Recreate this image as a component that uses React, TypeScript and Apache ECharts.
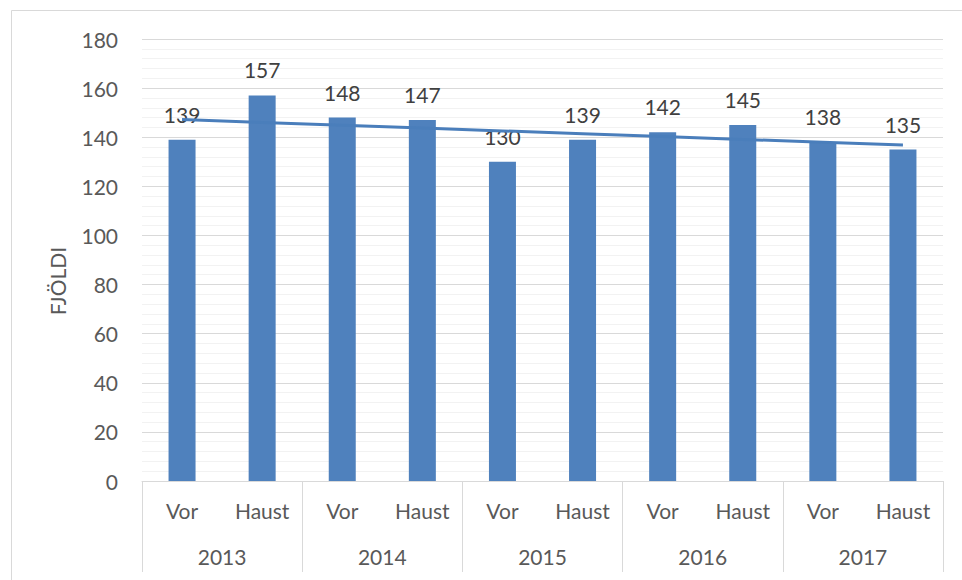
import React, { useEffect, useRef } from "react";
import * as echarts from "echarts";

const categories = ["Vor", "Haust", "Vor", "Haust", "Vor", "Haust", "Vor", "Haust", "Vor", "Haust"];
const years = ["2013", "2014", "2015", "2016", "2017"];
const values = [139, 157, 148, 147, 130, 139, 142, 145, 138, 135];
const yTicks = { min: 0, max: 180, interval: 20 };

// Linear (least-squares) trendline over the bar values
function trend(v: number[]): number[] {
  const n = v.length;
  const mx = (n - 1) / 2;
  const my = v.reduce((a, b) => a + b, 0) / n;
  let sxy = 0;
  let sxx = 0;
  v.forEach((y, i) => {
    sxy += (i - mx) * (y - my);
    sxx += (i - mx) * (i - mx);
  });
  const k = sxy / sxx;
  return v.map((_, i) => my + k * (i - mx));
}

const FONT = "Lato, 'Open Sans', sans-serif";

export default function App() {
  const ref = useRef<HTMLDivElement>(null);
  useEffect(() => {
    if (!ref.current) return;
    const chart = echarts.init(ref.current, undefined, { renderer: "svg" });
    chart.setOption({
      animation: false,
      backgroundColor: "#ffffff",
      textStyle: { fontFamily: FONT },
      grid: { left: 142, right: 19, top: 39, bottom: 99 },
      graphic: [
        {
          type: "rect",
          shape: { x: 11.5, y: 10.5, width: 1200, height: 1200 },
          style: { fill: "none", stroke: "#d9d9d9", lineWidth: 1 },
          silent: true,
          z: -10,
        },
        {
          type: "text",
          x: 57,
          y: 281,
          rotation: Math.PI / 2,
          style: {
            text: "FJÖLDI",
            fontFamily: FONT,
            fontSize: 21,
            fill: "#595959",
            textAlign: "center",
            textVerticalAlign: "middle",
          },
        },
      ],
      xAxis: [
        {
          type: "category",
          data: categories,
          position: "bottom",
          axisLine: { show: true, lineStyle: { color: "#d9d9d9", width: 1 } },
          axisTick: { show: false },
          axisLabel: { fontSize: 21, color: "#595959", margin: 19, interval: 0, fontFamily: FONT },
          splitLine: { show: false },
        },
        {
          type: "category",
          data: years,
          position: "bottom",
          axisLine: { show: false },
          axisTick: { show: true, interval: 0, length: 91, lineStyle: { color: "#d9d9d9", width: 1 } },
          axisLabel: { fontSize: 21, color: "#595959", margin: 65, interval: 0, fontFamily: FONT },
          splitLine: { show: false },
        },
      ],
      yAxis: {
        type: "value",
        min: yTicks.min,
        max: yTicks.max,
        interval: yTicks.interval,
        axisLine: { show: false },
        axisTick: { show: false },
        axisLabel: { fontSize: 21, color: "#595959", margin: 24, fontFamily: FONT },
        splitLine: { show: true, lineStyle: { color: "#d9d9d9", width: 1 } },
        minorTick: { show: false, splitNumber: 5 },
        minorSplitLine: { show: true, lineStyle: { color: "#f2f2f2", width: 1 } },
      },
      series: [
        {
          type: "bar",
          xAxisIndex: 0,
          data: values,
          barWidth: 27,
          itemStyle: { color: "#4f81bd" },
          label: {
            show: true,
            position: "top",
            distance: 15,
            fontSize: 21,
            color: "#404040",
            fontFamily: FONT,
          },
          z: 2,
        },
        {
          type: "line",
          xAxisIndex: 0,
          data: trend(values),
          symbol: "none",
          lineStyle: { color: "#4a7ebb", width: 3 },
          z: 5,
          silent: true,
        },
      ],
    });
    return () => chart.dispose();
  }, []);
  return (
    <div
      ref={ref}
      style={{ position: "fixed", left: 0, top: 0, width: 962, height: 580 }}
    />
  );
}
